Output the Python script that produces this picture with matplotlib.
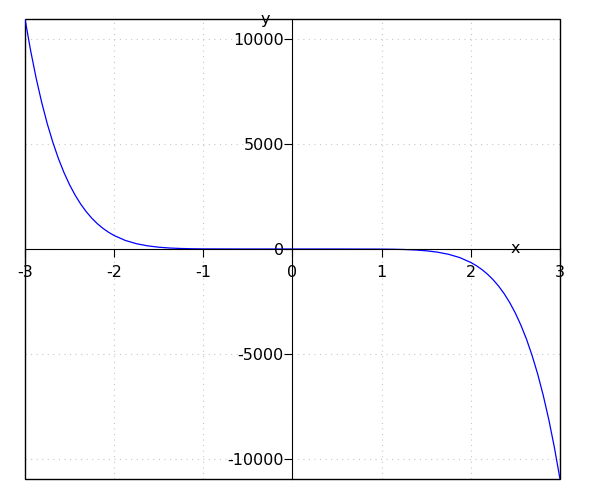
import matplotlib
matplotlib.use('Agg')
import matplotlib.pyplot as plt
from matplotlib.patches import Rectangle

plt.rcParams['axes.unicode_minus'] = False

# values
x_vals = [-3.0, -2.9375, -2.875, -2.8125, -2.75, -2.6875, -2.625, -2.5625, -2.5,
          -2.4375, -2.375, -2.3125, -2.25, -2.1875, -2.125, -2.0625, -2.0, -1.875,
          -1.75, -1.625, -1.5, -1.375, -1.25, -1.125, -1.0, -0.5, 0.0,
          0.5, 1.0, 1.125, 1.25, 1.375, 1.5, 1.625, 1.75, 1.875, 2.0,
          2.0625, 2.125, 2.1875, 2.25, 2.3125, 2.375, 2.4375, 2.5, 2.5625,
          2.625, 2.6875, 2.75, 2.8125, 2.875, 2.9375, 3.0]
y_vals = [10935, 9440, 8118, 6962, 5947, 5067, 4294, 3630, 3052,
          2557, 2131, 1769, 1460, 1199, 978, 794, 640, 407,
          251, 150, 85, 46, 24, 11, 5, 0, 0,
          0, -5, -11, -24, -46, -85, -150, -251, -407, -640,
          -794, -978, -1199, -1460, -1769, -2131, -2557, -3052, -3630,
          -4294, -5067, -5947, -6962, -8118, -9440, -10935]

x_ticks = [-3, -2, -1, 0, 1, 2, 3]
y_ticks = [-10000, -5000, 0, 5000, 10000]
y_limit = 10935

fig = plt.figure(figsize=(6, 5), dpi=100)
ax = fig.add_axes([0.0417, 0.042, 0.8916, 0.92])

ax.plot(x_vals, y_vals, color='blue', linewidth=0.9)

ax.set_xlim(x_ticks[0], x_ticks[-1])
ax.set_ylim(-y_limit, y_limit)
ax.set_xticks(x_ticks)
ax.set_yticks(y_ticks)
ax.tick_params(labelsize=11.5, length=5.5, width=0.8, direction='out')
ax.tick_params(axis='x', pad=6)
ax.tick_params(axis='y', pad=0.7)

# axes through the origin, box frame around the plot area
ax.spines['left'].set_position('zero')
ax.spines['bottom'].set_position('zero')
for side in ['top', 'right']:
    ax.spines[side].set_visible(False)
ax.add_patch(Rectangle((0, 0), 1, 1, transform=ax.transAxes, fill=False,
                       edgecolor='black', linewidth=1.0, clip_on=False))

ax.grid(True, linestyle=(0, (1, 4)), color='#c8c8c8', linewidth=0.8)
ax.set_axisbelow(True)

ax.text(0.917, 0.5, 'x', transform=ax.transAxes, ha='center', va='center', fontsize=11.5)
ax.text(0.449, 0.998, 'y', transform=ax.transAxes, ha='center', va='center', fontsize=11.5)

fig.savefig('out.png', dpi=100)
